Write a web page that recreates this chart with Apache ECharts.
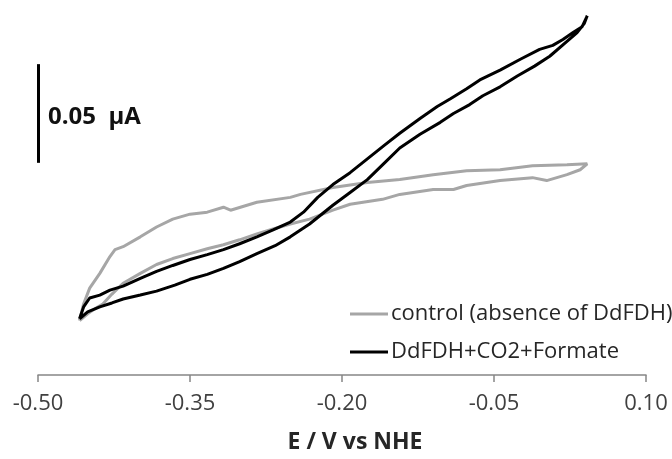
<!DOCTYPE html>
<html>
<head>
<meta charset="utf-8">
<script src="https://cdn.jsdelivr.net/npm/echarts@6/dist/echarts.min.js"></script>
<style>
  html, body { margin: 0; padding: 0; background: #fff; }
  #chart { width: 672px; height: 459px; }
</style>
</head>
<body>
<div id="chart"></div>
<script>
// potential (V vs NHE) and current (µA, arbitrary offset)
const controlX = [-0.459, -0.451, -0.444, -0.436, -0.427, -0.416, -0.399, -0.383, -0.367, -0.350,
  -0.333, -0.317, -0.301, -0.284, -0.268, -0.251, -0.232, -0.209, -0.192, -0.160,
  -0.143, -0.110, -0.090, -0.077, -0.044, -0.012, 0.002, 0.022, 0.035, 0.042,
  0.042, 0.022, -0.012, -0.044, -0.077, -0.110, -0.143, -0.175, -0.209, -0.241,
  -0.251, -0.284, -0.310, -0.317, -0.333, -0.350, -0.367, -0.383, -0.399, -0.416,
  -0.424, -0.429, -0.439, -0.449, -0.455, -0.459];
const controlY = [0.0275, 0.031, 0.0335, 0.036, 0.041, 0.0465, 0.0515, 0.056, 0.059, 0.0615,
  0.064, 0.066, 0.0685, 0.0715, 0.074, 0.0765, 0.079, 0.0835, 0.0865, 0.089,
  0.0915, 0.094, 0.094, 0.096, 0.0985, 0.100, 0.0985, 0.1015, 0.104, 0.107,
  0.1075, 0.1065, 0.106, 0.104, 0.1035, 0.1015, 0.099, 0.0975, 0.095, 0.0915,
  0.090, 0.0875, 0.0835, 0.085, 0.0825, 0.0815, 0.079, 0.075, 0.070, 0.065,
  0.0635, 0.060, 0.0515, 0.044, 0.036, 0.0275];

const enzymeX = [-0.459, -0.451, -0.439, -0.427, -0.416, -0.399, -0.383, -0.365, -0.350, -0.333,
  -0.317, -0.301, -0.284, -0.266, -0.251, -0.232, -0.209, -0.192, -0.175, -0.158,
  -0.143, -0.123, -0.103, -0.090, -0.074, -0.061, -0.044, -0.027, -0.010, 0.005,
  0.022, 0.032, 0.039, 0.042,
  0.042, 0.037, 0.028, 0.018, 0.008, -0.005, -0.024, -0.044, -0.064, -0.077,
  -0.093, -0.106, -0.123, -0.143, -0.158, -0.175, -0.192, -0.209, -0.224, -0.238,
  -0.251, -0.268, -0.284, -0.301, -0.317, -0.333, -0.350, -0.367, -0.383, -0.399,
  -0.416, -0.429, -0.439, -0.449, -0.455, -0.459];
const enzymeY = [0.0285, 0.032, 0.0345, 0.0365, 0.0385, 0.0405, 0.0425, 0.0455, 0.0485, 0.051,
  0.054, 0.0575, 0.0615, 0.0655, 0.070, 0.0765, 0.086, 0.0925, 0.099, 0.1075,
  0.115, 0.122, 0.128, 0.1325, 0.137, 0.1415, 0.146, 0.1515, 0.1565, 0.1615,
  0.169, 0.1735, 0.178, 0.182,
  0.1825, 0.1765, 0.1735, 0.170, 0.167, 0.165, 0.160, 0.1545, 0.1495, 0.145,
  0.140, 0.136, 0.130, 0.1225, 0.1165, 0.1095, 0.1025, 0.0965, 0.090, 0.0825,
  0.0775, 0.0735, 0.070, 0.0665, 0.0635, 0.061, 0.0585, 0.0555, 0.0525, 0.049,
  0.045, 0.043, 0.0405, 0.039, 0.0345, 0.0285];

const seriesNames = ['control (absence of DdFDH)', 'DdFDH+CO2+Formate'];
const xTicks = [-0.50, -0.35, -0.20, -0.05, 0.10];

// 0.05 µA scale bar
const scaleBarX = [-0.5, -0.5];
const scaleBarY = [0.1075, 0.1575];

const pairs = (xs, ys) => xs.map((x, i) => [x, ys[i]]);

const chart = echarts.init(document.getElementById('chart'));

chart.setOption({
  animation: false,
  grid: { left: 38, right: 26, top: 0, bottom: 79 },
  xAxis: {
    type: 'value',
    min: xTicks[0],
    max: xTicks[xTicks.length - 1],
    interval: 0.15,
    name: 'E / V vs NHE',
    nameLocation: 'middle',
    nameGap: 56,
    nameTextStyle: {
      fontFamily: 'Open Sans', fontSize: 23, fontWeight: 'bold', color: '#262626',
      padding: [0, 0, 0, 26]
    },
    axisLine: { lineStyle: { color: '#868686', width: 1.5 } },
    axisTick: { show: true, length: 7, lineStyle: { color: '#868686', width: 1.5 } },
    axisLabel: {
      margin: 18,
      fontFamily: 'Open Sans', fontSize: 22, color: '#404040',
      formatter: v => v.toFixed(2)
    },
    splitLine: { show: false }
  },
  yAxis: {
    type: 'value',
    min: 0,
    max: 0.19,
    show: false
  },
  legend: {
    orient: 'vertical',
    left: 345,
    top: 297,
    icon: 'rect',
    itemWidth: 38,
    itemHeight: 3,
    itemGap: 14,
    textStyle: { fontFamily: 'Open Sans', fontSize: 22, lineHeight: 24, color: '#262626', padding: [0, 0, 0, -2] },
    data: seriesNames
  },
  graphic: [{
    type: 'text',
    left: 48,
    top: 105,
    style: {
      text: '0.05 \u00a0µA',
      font: 'bold 24px "Open Sans"',
      fill: '#111'
    }
  }],
  series: [
    {
      name: seriesNames[0],
      type: 'line',
      data: pairs(controlX, controlY),
      symbol: 'none',
      lineStyle: { color: '#a6a6a6', width: 3 },
      itemStyle: { color: '#a6a6a6' }
    },
    {
      name: seriesNames[1],
      type: 'line',
      data: pairs(enzymeX, enzymeY),
      symbol: 'none',
      lineStyle: { color: '#000', width: 3 },
      itemStyle: { color: '#000' },
      markLine: {
        silent: true,
        symbol: 'none',
        label: { show: false },
        lineStyle: { color: '#000', width: 3, type: 'solid' },
        data: [[
          { coord: [scaleBarX[0], scaleBarY[0]] },
          { coord: [scaleBarX[1], scaleBarY[1]] }
        ]]
      }
    }
  ]
});
</script>
</body>
</html>
